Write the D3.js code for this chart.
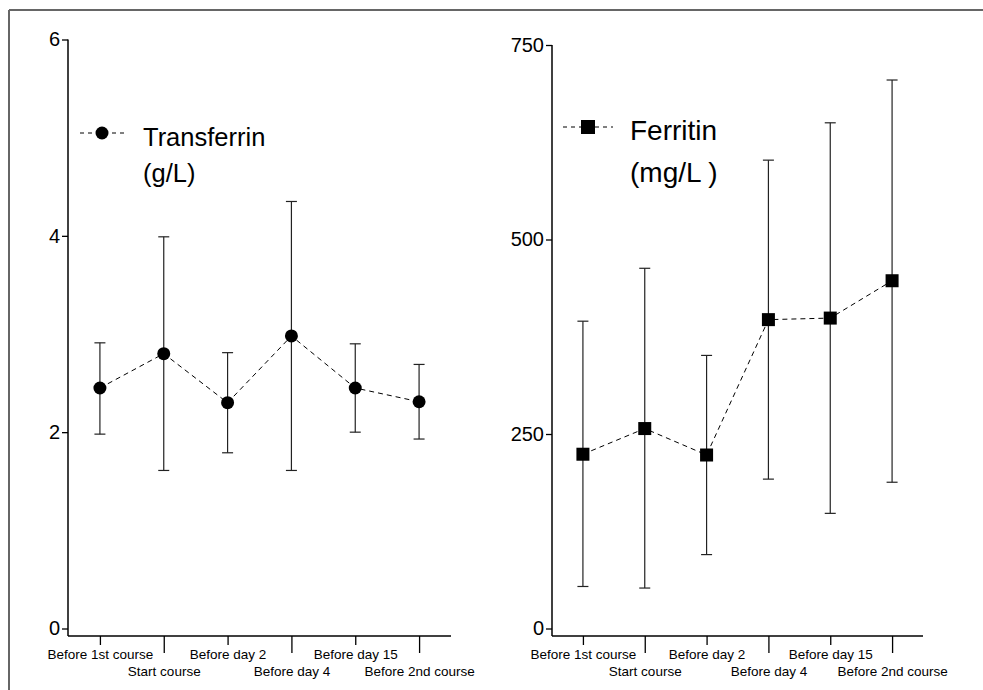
<!DOCTYPE html>
<html>
<head>
<meta charset="utf-8">
<script src="https://cdn.jsdelivr.net/npm/d3@7"></script>
<style>
  html, body { margin: 0; padding: 0; background: #fff; }
  svg { display: block; font-family: "Liberation Sans", Arial, sans-serif; }
</style>
</head>
<body>
<svg id="chart" width="983" height="690"></svg>
<script>
// ---- data ----
const categories = ["Before 1st course", "Start course", "Before day 2", "Before day 4", "Before day 15", "Before 2nd course"];

const transferrinMean = [2.45, 2.80, 2.30, 2.98, 2.45, 2.31];
const transferrinLow  = [1.98, 1.61, 1.79, 1.61, 2.00, 1.93];
const transferrinHigh = [2.91, 3.99, 2.81, 4.35, 2.90, 2.69];
const transferrinTicks = [0, 2, 4, 6];

const ferritinMean = [224, 257, 223, 397, 399, 447];
const ferritinLow  = [54, 52, 95, 192, 148, 188];
const ferritinHigh = [395, 463, 351, 602, 650, 705];
const ferritinTicks = [0, 250, 500, 750];

const svg = d3.select("#chart");

// frame (top and left edges)
svg.append("line").attr("x1", 9).attr("x2", 983).attr("y1", 10).attr("y2", 10)
  .attr("stroke", "#666").attr("stroke-width", 2);
svg.append("line").attr("x1", 9).attr("x2", 9).attr("y1", 10).attr("y2", 690)
  .attr("stroke", "#666").attr("stroke-width", 2);

function panel(cfg) {
  const g = svg.append("g");
  const x = d3.scalePoint().domain(categories).range([cfg.x0, cfg.x1]).padding(0.5);
  const y = d3.scaleLinear().domain([0, cfg.ticks[cfg.ticks.length - 1]]).range([cfg.yBottom, cfg.yTop]);
  const baseY = cfg.baseY;

  // y axis
  const ya = g.append("g").attr("transform", `translate(${cfg.x0},0)`)
    .call(d3.axisLeft(y).tickValues(cfg.ticks).tickFormat(d3.format("d")).tickSize(6).tickSizeOuter(0).tickPadding(2));
  ya.select(".domain").remove();
  ya.selectAll(".tick line").attr("stroke", "#000").attr("stroke-width", 1.3);
  ya.selectAll(".tick text").attr("font-size", 20).attr("fill", "#000")
    .attr("font-family", "Liberation Sans, Arial, sans-serif");
  g.append("line").attr("x1", cfg.x0).attr("x2", cfg.x0).attr("y1", y(cfg.ticks[cfg.ticks.length - 1]))
    .attr("y2", baseY).attr("stroke", "#000").attr("stroke-width", 1.5);

  // x axis
  const xa = g.append("g").attr("transform", `translate(0,${baseY})`)
    .call(d3.axisBottom(x).tickSize(9).tickSizeOuter(0));
  xa.select(".domain").remove();
  g.append("line").attr("x1", cfg.x0).attr("x2", cfg.x1).attr("y1", baseY).attr("y2", baseY)
    .attr("stroke", "#000").attr("stroke-width", 1.5);
  xa.selectAll(".tick line").attr("stroke", "#000").attr("stroke-width", 1.3)
    .attr("y2", (d, i) => i % 2 === 0 ? 9 : 17);
  xa.selectAll(".tick text").attr("font-size", 13.5).attr("fill", "#000")
    .attr("font-family", "Liberation Sans, Arial, sans-serif")
    .attr("dy", null)
    .attr("y", (d, i) => i % 2 === 0 ? 23 : 40);

  // error bars
  const cap = 5.5;
  const eb = g.append("g").attr("stroke", "#222").attr("stroke-width", 1.2);
  categories.forEach((c, i) => {
    const cx = x(c);
    eb.append("line").attr("x1", cx).attr("x2", cx).attr("y1", y(cfg.low[i])).attr("y2", y(cfg.high[i]));
    eb.append("line").attr("x1", cx - cap).attr("x2", cx + cap).attr("y1", y(cfg.low[i])).attr("y2", y(cfg.low[i]));
    eb.append("line").attr("x1", cx - cap).attr("x2", cx + cap).attr("y1", y(cfg.high[i])).attr("y2", y(cfg.high[i]));
  });

  // connecting dashed line
  const line = d3.line().x((d, i) => x(categories[i])).y(d => y(d));
  g.append("path").datum(cfg.mean).attr("d", line).attr("fill", "none")
    .attr("stroke", "#000").attr("stroke-width", 1).attr("stroke-dasharray", "5,4");

  // markers
  if (cfg.marker === "circle") {
    g.selectAll("circle.m").data(cfg.mean).join("circle").attr("class", "m")
      .attr("cx", (d, i) => x(categories[i])).attr("cy", d => y(d)).attr("r", 6.5).attr("fill", "#000");
  } else {
    const s = 13;
    g.selectAll("rect.m").data(cfg.mean).join("rect").attr("class", "m")
      .attr("x", (d, i) => x(categories[i]) - s / 2).attr("y", d => y(d) - s / 2)
      .attr("width", s).attr("height", s).attr("fill", "#000");
  }

  // legend
  const L = cfg.legend;
  g.append("line").attr("x1", L.lx0).attr("x2", L.lx1).attr("y1", L.ly).attr("y2", L.ly)
    .attr("stroke", "#000").attr("stroke-width", 1).attr("stroke-dasharray", "4,4");
  if (cfg.marker === "circle") {
    g.append("circle").attr("cx", (L.lx0 + L.lx1) / 2).attr("cy", L.ly).attr("r", 6.5).attr("fill", "#000");
  } else {
    g.append("rect").attr("x", (L.lx0 + L.lx1) / 2 - 7).attr("y", L.ly - 7)
      .attr("width", 14).attr("height", 14).attr("fill", "#000");
  }
  g.append("text").attr("x", L.tx).attr("y", L.ty1).attr("font-size", L.fs).attr("fill", "#000").text(L.t1);
  g.append("text").attr("x", L.tx).attr("y", L.ty2).attr("font-size", L.fs).attr("fill", "#000").text(L.t2);
}

panel({
  x0: 68, x1: 451, yBottom: 628.5, yTop: 39.5, baseY: 636,
  ticks: transferrinTicks, mean: transferrinMean, low: transferrinLow, high: transferrinHigh,
  marker: "circle",
  legend: { lx0: 80, lx1: 124, ly: 133, tx: 143, ty1: 146, ty2: 182, fs: 25.5, t1: "Transferrin", t2: "(g/L)" }
});

panel({
  x0: 552, x1: 923, yBottom: 628.5, yTop: 45, baseY: 636,
  ticks: ferritinTicks, mean: ferritinMean, low: ferritinLow, high: ferritinHigh,
  marker: "square",
  legend: { lx0: 563, lx1: 613, ly: 127, tx: 630, ty1: 140, ty2: 182, fs: 28, t1: "Ferritin", t2: "(mg/L )" }
});
</script>
</body>
</html>
